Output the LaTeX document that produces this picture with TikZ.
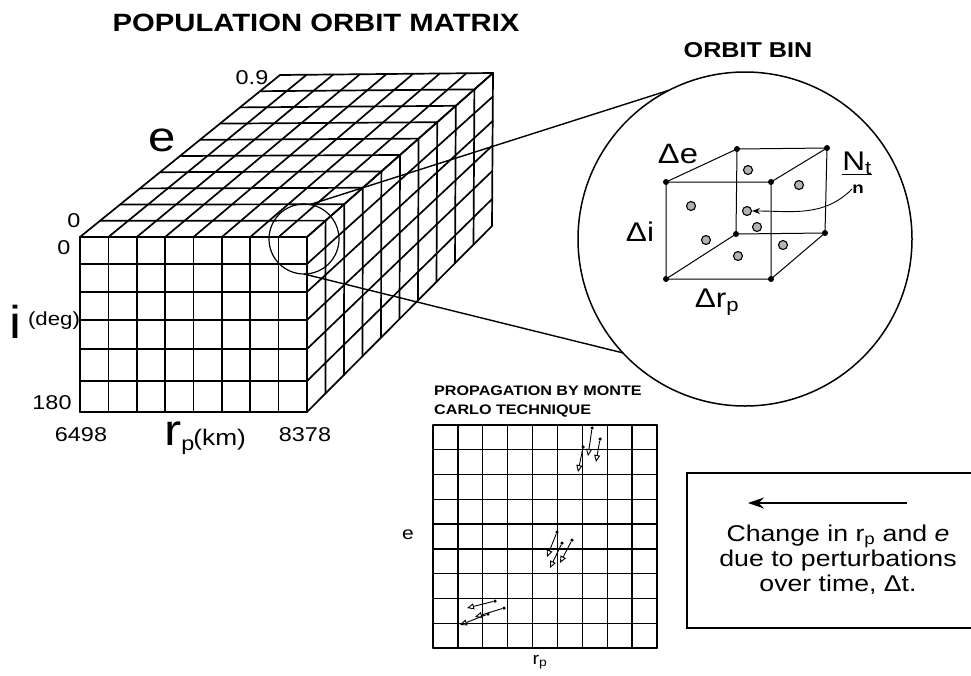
\documentclass[tikz,border=0pt]{standalone}
\usepackage{fontspec}
\setmainfont{Liberation Sans}[FakeStretch=1.17]
\usetikzlibrary{positioning, arrows.meta, calc}
\newcommand{\fsz}[1]{\fontsize{#1}{#1}\selectfont}

\begin{document}
\begin{tikzpicture}[x=1pt, y=-1pt,
    lbl/.style={inner sep=0pt},
    cubeline/.style={line width=1.7pt, line cap=round},
    binline/.style={line width=1pt},
    mcgrid/.style={line width=1.4pt, line cap=round},
    corner/.style={circle, fill=black, minimum size=6pt, inner sep=0pt},
    particle/.style={circle, draw=black, fill=gray!60, line width=1.1pt, minimum size=9pt, inner sep=0pt},
    mcdot/.style={circle, fill=black, minimum size=3.5pt, inner sep=0pt},
    mcarrow/.style={-{Triangle[open, length=7pt, width=6pt]}, line width=0.9pt}]

\useasboundingbox (0,0) rectangle (971,675);

% population matrix
\coordinate (fl) at (80,237);  \coordinate (fr) at (307,237);
\coordinate (bl) at (80,412);  \coordinate (br) at (307,412);
\coordinate (tl) at (280,75);  \coordinate (tr) at (493,73);
\coordinate (rb) at (492,226);
\foreach \col in {0,...,8} {
    \draw[cubeline] ($(fl)!\col/8!(fr)$) -- ($(bl)!\col/8!(br)$);
    \draw[cubeline] ($(fl)!\col/8!(fr)$) -- ($(tl)!\col/8!(tr)$);
}
\foreach \f in {0,0.154,0.314,0.474,0.64,0.823,1} {
    \draw[cubeline] ($(fl)!\f!(bl)$) -- ($(fr)!\f!(br)$);
    \draw[cubeline] ($(fr)!\f!(br)$) -- ($(tr)!\f!(rb)$);
}
\foreach \dep in {0,...,10} {
    \draw[cubeline] ($(fl)!\dep/10!(tl)$) -- ($(fr)!\dep/10!(tr)$);
    \draw[cubeline] ($(fr)!\dep/10!(tr)$) -- ($(br)!\dep/10!(rb)$);
}

\node[lbl, font=\bfseries\fsz{25}] (title) at (316,23) {POPULATION ORBIT MATRIX};
\node[lbl, font=\fsz{20}] (emax) at (252,78) {0.9};
\node[lbl, font=\fsz{42}] (elabel) at (162,140) {e};
\node[lbl, font=\fsz{20}] (emin) at (74,221) {0};
\node[lbl, font=\fsz{20}] (imin) at (64,248) {0};
\node[lbl, font=\fsz{46}] (ilabel) at (15,322) {i};
\node[lbl, font=\fsz{19}] (iunit) at (54,321) {(deg)};
\node[lbl, font=\fsz{20}] (imax) at (52,403) {180};
\node[lbl, font=\fsz{20}] (rmin) at (81,435) {6498};
\node[lbl, font=\fsz{20}] (rmax) at (305,435) {8378};
\node[lbl, anchor=base west] (rlabel) at (164,445)
    {\fsz{44}r\fsz{20}\raisebox{-5pt}{p}\kern-1pt\fsz{22.5}(km)};

% zoom onto one bin
\node[circle, draw, line width=1.2pt, minimum size=70pt, inner sep=0pt, outer sep=0pt] (ring) at (304,239) {};
\node[circle, draw, line width=1.5pt, minimum size=334pt, inner sep=0pt, outer sep=0pt] (bin) at (745,239) {};
\draw[line width=1.4pt] (ring.80) -- (bin.117);
\draw[line width=1.4pt] (ring.south) -- (bin.223);
\node[lbl, font=\bfseries\fsz{21.5}] (bintitle) at (748,50) {ORBIT BIN};

\coordinate (a1) at (666,182); \coordinate (a2) at (771,182);
\coordinate (a3) at (771,279); \coordinate (a4) at (666,279);
\coordinate (b1) at (737,149); \coordinate (b2) at (827,148);
\coordinate (b3) at (825,233); \coordinate (b4) at (736,234);
\draw[binline] (a1) -- (a2) -- (a3) -- (a4) -- cycle
    (b1) -- (b2) -- (b3) -- (b4) -- cycle
    (a1) -- (b1) (a2) -- (b2) (a3) -- (b3) (a4) -- (b4);
\foreach \c in {a1,a2,a3,a4,b1,b2,b3,b4}
    \node[corner] (dot-\c) at (\c) {};

\node[particle] (p1) at (748,170) {};
\node[particle] (p2) at (799,185) {};
\node[particle] (p3) at (691,206) {};
\node[particle] (p4) at (747,211) {};
\node[particle] (p5) at (757,227) {};
\node[particle] (p6) at (706,240) {};
\node[particle] (p7) at (783,245) {};
\node[particle] (p8) at (738,256) {};

\node[lbl, font=\fsz{28}] (de) at (678,154) {Δe};
\node[lbl, font=\fsz{27}] (di) at (640,232) {Δi};
\node[lbl, font=\fsz{27}] (drp) at (717,302) {Δr\textsubscript{p}};
\node[lbl, font=\fsz{27}] (nt) at (857,163) {N\textsubscript{t}};
\node[lbl, font=\bfseries\fsz{16}] (nn) at (858,189) {n};
\draw[line width=1pt] (nt.south west) -- (nt.south east);
\draw[-{Stealth[length=8pt, width=6pt]}, line width=0.9pt] (nn.west) to[out=225, in=0] (p4.east);

% monte carlo propagation
\coordinate (mtl) at (433,425); \coordinate (mtr) at (657,425);
\coordinate (mbl) at (433,648); \coordinate (mbr) at (657,648);
\foreach \col in {0,...,9} {
    \draw[mcgrid] ($(mtl)!\col/9!(mtr)$) -- ($(mbl)!\col/9!(mbr)$);
    \draw[mcgrid] ($(mtl)!\col/9!(mbl)$) -- ($(mtr)!\col/9!(mbr)$);
}
\node[lbl, anchor=west, align=left, font=\bfseries\fontsize{13.8}{19}\selectfont] (mctitle) at (434,402) {PROPAGATION BY MONTE\\CARLO TECHNIQUE};
\node[lbl, font=\fsz{18}] (mce) at (408,535) {e};
\node[lbl, font=\fsz{17}] (mcr) at (540,662) {r\textsubscript{p}};

\foreach \n/\s/\e in {1/{592,428}/{588,456}, 2/{600,439}/{596,462}, 3/{583,447}/{578,472},
        4/{557,532}/{547,557}, 5/{572,540}/{560,563}, 6/{562,543}/{550,568},
        7/{495,601}/{467,608}, 8/{504,608}/{475,617}, 9/{488,614}/{460,625}} {
    \node[mcdot] (s\n) at (\s) {};
    \coordinate (t\n) at (\e);
    \draw[mcarrow] (s\n) -- (t\n);
}

% legend
\draw[line width=1.3pt] (975,473) -- (687,473) -- (687,628) -- (975,628);
\coordinate (lgtail) at (907,503);
\coordinate (lghead) at (748,503);
\draw[-{Stealth[length=16pt, width=11pt]}, line width=1.4pt] (lgtail) -- (lghead);
\node[lbl, align=center, font=\fontsize{22.8}{25}\selectfont] (legend) at (838,560)
    {Change in r\textsubscript{p} and \textit{e}\\due to perturbations\\over time, Δt.};
\end{tikzpicture}
\end{document}
